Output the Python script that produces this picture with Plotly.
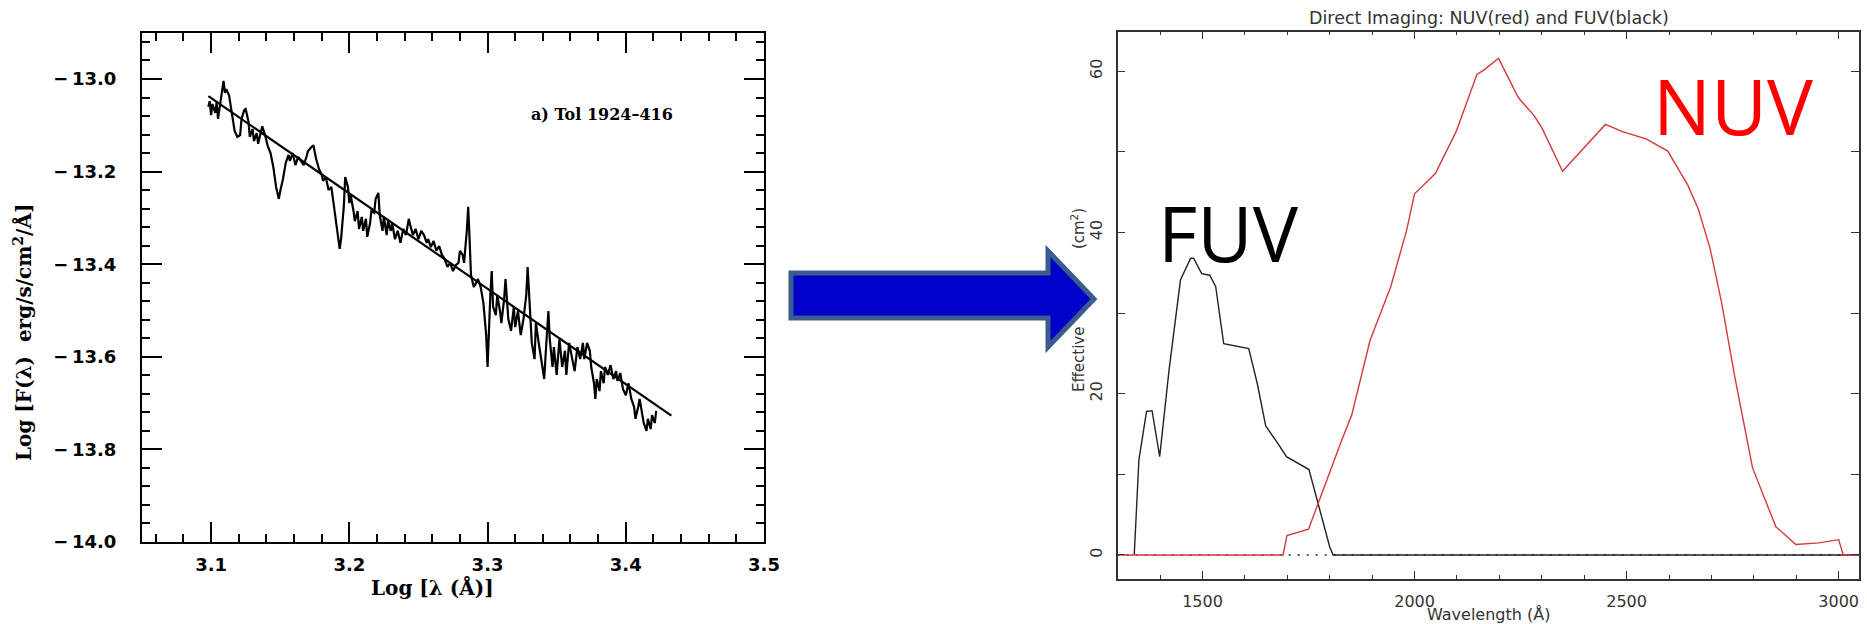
import plotly.graph_objects as go

W, H = 1867, 624

# ---------------- Left panel: UV spectrum of Tol 1924-416 ----------------
log_lambda = [3.098, 3.099, 3.100, 3.101, 3.103, 3.104, 3.105, 3.107, 3.109, 3.110,
              3.111, 3.113, 3.115, 3.117, 3.119, 3.121, 3.122, 3.124, 3.125, 3.127,
              3.128, 3.130, 3.131, 3.133, 3.134, 3.136, 3.137, 3.139, 3.141, 3.143,
              3.145, 3.147, 3.149, 3.150, 3.152, 3.154, 3.156, 3.157, 3.159, 3.161,
              3.163, 3.165, 3.167, 3.169, 3.170, 3.172, 3.174, 3.176, 3.178, 3.180,
              3.181, 3.183, 3.185, 3.187, 3.189, 3.191, 3.193, 3.194, 3.196, 3.197,
              3.199, 3.200, 3.201, 3.203, 3.204, 3.206, 3.207, 3.209, 3.210, 3.212,
              3.213, 3.215, 3.216, 3.218, 3.219, 3.221, 3.222, 3.224, 3.225, 3.227,
              3.228, 3.230, 3.231, 3.233, 3.235, 3.237, 3.239, 3.241, 3.243, 3.244,
              3.246, 3.248, 3.250, 3.252, 3.254, 3.256, 3.257, 3.259, 3.261, 3.263,
              3.265, 3.267, 3.269, 3.271, 3.273, 3.275, 3.277, 3.279, 3.280, 3.282,
              3.283, 3.285, 3.286, 3.287, 3.288, 3.290, 3.291, 3.293, 3.295, 3.297,
              3.299, 3.300, 3.301, 3.302, 3.303, 3.304, 3.306, 3.307, 3.309, 3.310,
              3.312, 3.313, 3.315, 3.317, 3.319, 3.320, 3.322, 3.324, 3.326, 3.328,
              3.329, 3.331, 3.332, 3.334, 3.335, 3.337, 3.339, 3.341, 3.342, 3.344,
              3.345, 3.347, 3.348, 3.350, 3.352, 3.354, 3.356, 3.357, 3.359, 3.361,
              3.363, 3.365, 3.367, 3.369, 3.370, 3.372, 3.374, 3.375, 3.377, 3.378,
              3.379, 3.381, 3.382, 3.384, 3.385, 3.387, 3.389, 3.391, 3.393, 3.394,
              3.396, 3.398, 3.400, 3.402, 3.404, 3.406, 3.407, 3.409, 3.410, 3.412,
              3.413, 3.415, 3.416, 3.418, 3.419, 3.421, 3.422]
log_flux = [-13.060, -13.048, -13.078, -13.054, -13.073, -13.050, -13.086, -13.043, -13.004, -13.030,
            -13.022, -13.035, -13.078, -13.112, -13.125, -13.121, -13.086, -13.067, -13.065, -13.091,
            -13.125, -13.108, -13.134, -13.117, -13.140, -13.112, -13.102, -13.121, -13.145, -13.160,
            -13.190, -13.233, -13.259, -13.242, -13.216, -13.181, -13.164, -13.177, -13.160, -13.186,
            -13.168, -13.177, -13.186, -13.168, -13.156, -13.149, -13.143, -13.173, -13.194, -13.207,
            -13.220, -13.212, -13.240, -13.233, -13.276, -13.320, -13.367, -13.346, -13.276, -13.212,
            -13.233, -13.268, -13.251, -13.285, -13.307, -13.285, -13.324, -13.298, -13.328, -13.302,
            -13.341, -13.311, -13.285, -13.289, -13.259, -13.246, -13.294, -13.328, -13.298, -13.337,
            -13.307, -13.328, -13.311, -13.346, -13.328, -13.354, -13.324, -13.337, -13.302, -13.315,
            -13.337, -13.324, -13.346, -13.328, -13.337, -13.354, -13.346, -13.363, -13.350, -13.371,
            -13.361, -13.380, -13.389, -13.406, -13.397, -13.415, -13.402, -13.397, -13.371, -13.380,
            -13.397, -13.328, -13.276, -13.346, -13.423, -13.449, -13.445, -13.432, -13.449, -13.484,
            -13.553, -13.622, -13.518, -13.467, -13.415, -13.492, -13.510, -13.467, -13.501, -13.527,
            -13.475, -13.432, -13.518, -13.544, -13.492, -13.536, -13.501, -13.553, -13.518, -13.467,
            -13.406, -13.518, -13.570, -13.605, -13.527, -13.570, -13.605, -13.648, -13.596, -13.501,
            -13.562, -13.622, -13.579, -13.639, -13.562, -13.622, -13.587, -13.639, -13.570, -13.605,
            -13.631, -13.579, -13.605, -13.570, -13.605, -13.570, -13.587, -13.622, -13.657, -13.691,
            -13.648, -13.674, -13.631, -13.657, -13.622, -13.639, -13.618, -13.648, -13.631, -13.652,
            -13.635, -13.670, -13.683, -13.657, -13.691, -13.708, -13.734, -13.708, -13.691, -13.726,
            -13.743, -13.760, -13.734, -13.756, -13.726, -13.743, -13.717]
fit_log_lambda = [3.098, 3.433]
fit_log_flux = [-13.037, -13.727]

left_xtick_vals = [3.1, 3.2, 3.3, 3.4, 3.5]
left_xtick_text = ["3.1", "3.2", "3.3", "3.4", "3.5"]
left_ytick_vals = [-14.0, -13.8, -13.6, -13.4, -13.2, -13.0]
left_ytick_text = ["\u2212\u200914.0", "\u2212\u200913.8", "\u2212\u200913.6",
                   "\u2212\u200913.4", "\u2212\u200913.2", "\u2212\u200913.0"]
left_xrange = [3.05, 3.5]
left_yrange = [-14.0, -12.9]

# ---------------- Right panel: GALEX effective areas ----------------
fuv_wave = [1339, 1350, 1368, 1381, 1399, 1421, 1448, 1472, 1479, 1498, 1517, 1531,
            1550, 1609, 1629, 1649, 1678, 1698, 1751, 1800, 1808, 3048]
fuv_area = [0.0, 11.8, 17.8, 17.9, 12.2, 22.9, 34.1, 36.8, 36.8, 34.9, 34.7, 33.3,
            26.2, 25.6, 21.3, 16.0, 13.8, 12.2, 10.6, 1.0, 0.0, 0.0]
nuv_wave = [1300, 1690, 1699, 1750, 1828, 1852, 1895, 1944, 1981, 2000, 2049, 2098,
            2147, 2165, 2198, 2245, 2282, 2300, 2349, 2392, 2450, 2490, 2546, 2597,
            2644, 2669, 2697, 2724, 2754, 2797, 2827, 2852, 2899, 2954, 3000, 3011, 3048]
nuv_area = [0.0, 0.0, 2.4, 3.2, 14.2, 17.4, 26.6, 33.3, 40.2, 44.8, 47.3, 52.5,
            59.6, 60.2, 61.6, 56.7, 54.5, 53.0, 47.6, 50.1, 53.4, 52.5, 51.6, 50.1,
            45.9, 42.9, 38.0, 31.3, 22.4, 10.8, 6.8, 3.5, 1.3, 1.5, 1.9, 0.0, 0.0]
zero_wave = [1300, 3048]
zero_area = [0.0, 0.0]

right_xtick_vals = [1500, 2000, 2500, 3000]
right_ytick_vals = [0, 20, 40, 60]
right_xrange = [1300, 3048]
right_yrange = [-2.94, 64.9]

# ---------------- layout geometry (pixels) ----------------
L_left, L_right, L_top, L_bot = 142, 764, 32.7, 542
R_left, R_right, R_top, R_bot = 1117.7, 1859, 31.7, 578.7

def px(x):
    return x / W

def py(y):
    return 1 - y / H

fig = go.Figure()

fig.add_trace(go.Scatter(x=log_lambda, y=log_flux, mode="lines",
                         line=dict(color="black", width=2.2), xaxis="x", yaxis="y",
                         showlegend=False, hoverinfo="skip"))
fig.add_trace(go.Scatter(x=fit_log_lambda, y=fit_log_flux, mode="lines",
                         line=dict(color="black", width=2.2), xaxis="x", yaxis="y",
                         showlegend=False, hoverinfo="skip"))

fig.add_trace(go.Scatter(x=zero_wave, y=zero_area, mode="lines",
                         line=dict(color="#222222", width=1.3, dash="2px,7px"),
                         xaxis="x2", yaxis="y2", showlegend=False, hoverinfo="skip"))
fig.add_trace(go.Scatter(x=fuv_wave, y=fuv_area, mode="lines",
                         line=dict(color="#222222", width=1.4),
                         xaxis="x2", yaxis="y2", showlegend=False, hoverinfo="skip"))
fig.add_trace(go.Scatter(x=nuv_wave, y=nuv_area, mode="lines",
                         line=dict(color="#d43a3a", width=1.4),
                         xaxis="x2", yaxis="y2", showlegend=False, hoverinfo="skip"))

sans_bold = dict(family="DejaVu Sans", size=18, color="black", weight="bold")
serif_bold = dict(family="DejaVu Serif", size=20, color="black", weight="bold")
thin = dict(family="DejaVu Sans", size=16, color="#333333")

fig.update_layout(
    width=W, height=H, margin=dict(l=0, r=0, t=0, b=0, autoexpand=False),
    paper_bgcolor="white", plot_bgcolor="white",
    xaxis=dict(domain=[px(L_left), px(L_right)], range=left_xrange, anchor="y",
               automargin=False,
               tickmode="array", tickvals=left_xtick_vals, ticktext=left_xtick_text,
               ticks="inside", ticklen=20, tickwidth=1.8, tickcolor="black",
               showline=True, linecolor="black", linewidth=2.2, mirror="allticks",
               showgrid=False, zeroline=False, tickfont=sans_bold, ticklabelstandoff=5,
               minor=dict(dtick=0.02, tick0=3.0, ticks="inside", ticklen=8,
                          tickwidth=1.5, tickcolor="black", showgrid=False)),
    yaxis=dict(domain=[py(L_bot), py(L_top)], range=left_yrange, anchor="x",
               automargin=False,
               tickmode="array", tickvals=left_ytick_vals, ticktext=left_ytick_text,
               ticks="inside", ticklen=20, tickwidth=1.8, tickcolor="black",
               showline=True, linecolor="black", linewidth=2.2, mirror="allticks",
               showgrid=False, zeroline=False, tickfont=sans_bold, ticklabelstandoff=20,
               minor=dict(dtick=0.04, tick0=-14.0, ticks="inside", ticklen=8,
                          tickwidth=1.5, tickcolor="black", showgrid=False)),
    xaxis2=dict(domain=[px(R_left), px(R_right)], range=right_xrange, anchor="y2",
                automargin=False,
                tickmode="array", tickvals=right_xtick_vals,
                ticks="inside", ticklen=8, tickwidth=1, tickcolor="#333333",
                showline=True, linecolor="#333333", linewidth=1.5, mirror="allticks",
                showgrid=False, zeroline=False, tickfont=thin, ticklabelstandoff=7,
                minor=dict(dtick=100, tick0=1300, ticks="inside", ticklen=4,
                           tickwidth=1, tickcolor="#333333", showgrid=False)),
    yaxis2=dict(domain=[py(R_bot), py(R_top)], range=right_yrange, anchor="x2",
                automargin=False,
                tickmode="array", tickvals=right_ytick_vals, tickangle=-90,
                ticks="inside", ticklen=8, tickwidth=1, tickcolor="#333333",
                showline=True, linecolor="#333333", linewidth=1.5, mirror="allticks",
                showgrid=False, zeroline=False, tickfont=thin, ticklabelstandoff=8,
                minor=dict(dtick=10, tick0=0, ticks="inside", ticklen=8,
                           tickwidth=1, tickcolor="#333333", showgrid=False)),
)

hidden = "<span style='color:rgba(0,0,0,0)'>Area</span>"
nb = "\u00a0"
annotations = [
    dict(text="Log [F(\u03bb)  erg/s/cm<sup>2</sup>/\u00c5]", x=px(23), y=py(333),
         textangle=-90, font=serif_bold),
    dict(text="Log [\u03bb (\u00c5)]", x=px(432), y=py(588), font=serif_bold),
    dict(text="a) Tol 1924\u2013416", x=px(602), y=py(114),
         font=dict(family="DejaVu Serif", size=16, color="black", weight="bold")),
    dict(text="Direct Imaging: NUV(red) and FUV(black)", x=px(1489), y=py(18),
         font=dict(family="DejaVu Sans", size=17.5, color="#333333")),
    dict(text="Wavelength (\u00c5)", x=px(1488), y=py(614), font=thin),
    dict(text="Effective" + nb * 4 + hidden + nb * 4 + " (cm<sup>2</sup>)",
         x=px(1078), y=py(300), textangle=-90,
         font=dict(family="DejaVu Sans", size=15, color="#333333")),
    dict(text="FUV", x=px(1228), y=py(232),
         font=dict(family="Open Sans", size=76, color="black")),
    dict(text="NUV", x=px(1733), y=py(105),
         font=dict(family="Open Sans", size=77, color="#ff0000")),
]
for a in annotations:
    a.update(xref="paper", yref="paper", showarrow=False, xanchor="center", yanchor="middle")
fig.update_layout(annotations=annotations)

# Blue block arrow between the panels
arrow_pts = [(791, 273), (1048, 273), (1048, 251), (1094, 299), (1048, 347),
             (1048, 318), (791, 318)]
path = "M " + " L ".join(f"{px(x):.5f},{py(y):.5f}" for x, y in arrow_pts) + " Z"
fig.add_shape(type="path", path=path, xref="paper", yref="paper",
              fillcolor="#0000c8", line=dict(color="#3a5c8e", width=5), layer="above")

fig.write_html("out.html")
